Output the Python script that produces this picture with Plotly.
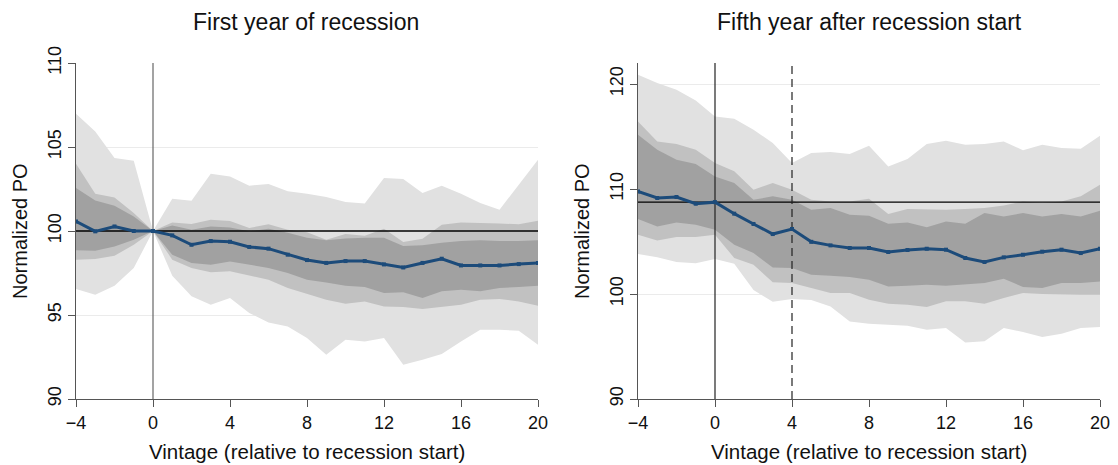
import plotly.graph_objects as go

# ---------------- data ----------------
VINTAGE = list(range(-4, 21))

# Left panel: first year of recession
L_CENTRAL = [100.57, 99.98, 100.27, 100.0, 100.0, 99.74, 99.18, 99.4, 99.36, 99.05, 98.95, 98.59, 98.27,
             98.1, 98.21, 98.21, 98.01, 97.83, 98.1, 98.35, 97.95, 97.95, 97.95, 98.03, 98.1]
L_LIGHT_UP = [106.98, 105.93, 104.35, 104.18, 100.0, 101.92, 101.8, 103.41, 103.25, 102.7, 102.8, 102.36, 102.22,
              102.02, 101.73, 101.64, 103.15, 103.09, 102.26, 102.7, 102.22, 101.67, 101.27, 102.76, 104.24]
L_MED_UP = [104.0, 102.22, 102.0, 101.07, 100.0, 100.51, 100.42, 100.67, 100.6, 100.18, 100.4, 100.08, 99.92,
            99.48, 99.82, 99.72, 100.14, 99.34, 99.54, 100.37, 100.51, 100.5, 100.45, 100.4, 100.61]
L_DARK_UP = [102.56, 101.82, 101.5, 100.87, 100.0, 100.32, 100.08, 100.27, 100.21, 99.98, 100.14, 99.9, 99.6,
             99.45, 99.55, 99.6, 99.6, 99.1, 99.15, 99.3, 99.4, 99.45, 99.4, 99.4, 99.45]
L_DARK_LO = [98.85, 98.83, 99.08, 99.48, 100.0, 98.59, 98.1, 97.99, 98.19, 97.99, 97.8, 97.5, 97.1,
             96.94, 96.74, 96.67, 96.31, 96.35, 96.01, 96.41, 96.51, 96.41, 96.61, 96.67, 96.74]
L_MED_LO = [98.29, 98.33, 98.53, 99.18, 100.0, 98.29, 97.8, 97.54, 97.6, 97.34, 97.1, 96.6, 96.25,
            95.91, 95.67, 95.81, 95.51, 95.47, 95.36, 95.47, 95.61, 95.91, 95.95, 95.81, 95.55]
L_LIGHT_LO = [96.55, 96.21, 96.74, 97.8, 100.0, 97.34, 96.11, 95.61, 96.01, 95.12, 94.56, 94.32, 93.63,
              92.63, 93.53, 93.43, 93.63, 92.04, 92.34, 92.68, 93.43, 94.12, 94.12, 94.06, 93.23]

# Right panel: fifth year after recession start
R_CENTRAL = [109.77, 109.14, 109.24, 108.6, 108.75, 107.65, 106.67, 105.71, 106.19, 104.97, 104.63, 104.38, 104.38,
             104.0, 104.19, 104.31, 104.22, 103.43, 103.05, 103.49, 103.74, 104.03, 104.22, 103.9, 104.31]
R_LIGHT_UP = [120.89, 120.1, 119.46, 118.44, 116.91, 116.7, 115.65, 114.38, 112.48, 113.43, 113.52, 113.33, 114.12,
              112.15, 112.86, 114.29, 114.6, 114.22, 114.29, 114.53, 113.68, 114.22, 113.9, 113.84, 115.08]
R_MED_UP = [116.44, 114.53, 114.29, 113.74, 112.48, 111.68, 109.93, 110.57, 109.93, 108.98, 108.82, 108.82, 109.08,
            107.62, 108.1, 108.03, 108.03, 108.1, 108.19, 108.44, 108.82, 108.67, 108.82, 109.3, 110.41]
R_DARK_UP = [115.17, 113.74, 112.79, 112.38, 111.2, 110.57, 108.98, 109.3, 108.98, 108.03, 108.19, 107.55, 107.46,
             106.7, 106.82, 106.35, 106.91, 106.7, 107.71, 107.39, 107.71, 107.39, 107.62, 107.39, 107.93]
R_DARK_LO = [107.14, 106.44, 106.82, 106.6, 106.12, 104.7, 103.9, 102.53, 102.47, 101.84, 101.74, 101.62, 101.36,
             100.72, 100.78, 100.89, 100.78, 100.89, 101.05, 101.46, 100.67, 100.57, 101.05, 101.05, 101.2]
R_MED_LO = [105.65, 105.1, 105.43, 105.43, 105.65, 103.43, 102.79, 101.11, 101.05, 100.57, 100.1, 100.1, 99.46,
            99.08, 98.98, 98.76, 99.3, 99.3, 99.08, 99.62, 100.1, 100.0, 99.93, 99.93, 99.93]
R_LIGHT_LO = [103.81, 103.5, 103.04, 102.92, 103.33, 102.87, 100.37, 99.27, 99.53, 99.43, 98.8, 97.39, 97.16,
              97.07, 96.98, 96.6, 96.76, 95.39, 95.49, 96.76, 96.38, 95.9, 96.22, 96.76, 96.86]

TITLES = ["First year of recession", "Fifth year after recession start"]
X_TITLE = "Vintage (relative to recession start)"
Y_TITLE = "Normalized PO"
X_TICKS = [-4, 0, 4, 8, 12, 16, 20]
L_Y_TICKS = [90, 95, 100, 105, 110]
R_Y_TICKS = [90, 100, 110, 120]
X_RANGE = [-4, 20]
L_Y_RANGE = [90, 110]
R_Y_RANGE = [90, 122]
RECESSION_START = 0
FIFTH_YEAR_MARK = 4

# ---------------- styling ----------------
FONT = "Liberation Sans, Arial, sans-serif"
C_LIGHT = "#e1e1e1"
C_MED = "#c1c1c1"
C_DARK = "#a1a1a1"
C_LINE = "#1c4b7a"
AX_COLOR = "#555555"
TXT = "#111111"

fig = go.Figure()


def add_panel(xa, ya, central, bands, y_range, ref_level, vline_color, extra_dash=None):
    for up, lo, col in bands:
        fig.add_trace(go.Scatter(x=VINTAGE, y=up, mode="lines", line=dict(width=0, color=col),
                                 xaxis=xa, yaxis=ya, showlegend=False, hoverinfo="skip"))
        fig.add_trace(go.Scatter(x=VINTAGE, y=lo, mode="lines", line=dict(width=0, color=col),
                                 fill="tonexty", fillcolor=col, xaxis=xa, yaxis=ya,
                                 showlegend=False, hoverinfo="skip"))
    # reference lines
    fig.add_trace(go.Scatter(x=X_RANGE, y=[ref_level, ref_level], mode="lines",
                             line=dict(color="#000000", width=1.3), xaxis=xa, yaxis=ya,
                             showlegend=False, hoverinfo="skip"))
    fig.add_trace(go.Scatter(x=[RECESSION_START, RECESSION_START], y=y_range, mode="lines",
                             line=dict(color=vline_color, width=1.2), xaxis=xa, yaxis=ya,
                             showlegend=False, hoverinfo="skip"))
    if extra_dash is not None:
        fig.add_trace(go.Scatter(x=[extra_dash, extra_dash], y=y_range, mode="lines",
                                 line=dict(color="#222222", width=1.2, dash="8px,5px"), xaxis=xa, yaxis=ya,
                                 showlegend=False, hoverinfo="skip"))
    fig.add_trace(go.Scatter(x=VINTAGE, y=central, mode="lines+markers",
                             line=dict(color=C_LINE, width=3), marker=dict(size=4, color=C_LINE, symbol="square"),
                             xaxis=xa, yaxis=ya, showlegend=False))


add_panel("x", "y", L_CENTRAL,
          [(L_LIGHT_UP, L_LIGHT_LO, C_LIGHT), (L_MED_UP, L_MED_LO, C_MED), (L_DARK_UP, L_DARK_LO, C_DARK)],
          L_Y_RANGE, 100, "#666666")
add_panel("x2", "y2", R_CENTRAL,
          [(R_LIGHT_UP, R_LIGHT_LO, C_LIGHT), (R_MED_UP, R_MED_LO, C_MED), (R_DARK_UP, R_DARK_LO, C_DARK)],
          R_Y_RANGE, R_CENTRAL[VINTAGE.index(RECESSION_START)], "#222222", extra_dash=FIFTH_YEAR_MARK)

W, H = 1118, 465
Y_DOM = [(H - 399) / H, (H - 63) / H]

xaxis_common = dict(range=X_RANGE, tickvals=X_TICKS, showgrid=False, zeroline=False, automargin=False,
                    showline=True, linecolor=AX_COLOR, linewidth=1, ticks="outside", ticklen=7,
                    tickcolor=AX_COLOR, tickfont=dict(size=18, color=TXT, family=FONT))
yaxis_common = dict(showgrid=True, gridcolor="#ebebeb", gridwidth=1, zeroline=False, automargin=False,
                    showline=True, linecolor=AX_COLOR, linewidth=1, ticks="outside", ticklen=7,
                    tickcolor=AX_COLOR, tickangle=-90, ticklabelstandoff=0,
                    tickfont=dict(size=18, color=TXT, family=FONT))

fig.update_layout(
    width=W, height=H,
    margin=dict(l=0, r=0, t=0, b=0),
    paper_bgcolor="white", plot_bgcolor="white",
    font=dict(family=FONT, color=TXT),
    xaxis=dict(domain=[76 / W, 538 / W], anchor="y", **xaxis_common),
    yaxis=dict(domain=Y_DOM, anchor="x", range=L_Y_RANGE, tickvals=L_Y_TICKS, **yaxis_common),
    xaxis2=dict(domain=[638 / W, 1100 / W], anchor="y2", **xaxis_common),
    yaxis2=dict(domain=Y_DOM, anchor="x2", range=R_Y_RANGE, tickvals=R_Y_TICKS, **yaxis_common),
)

annotations = [
    dict(text=TITLES[0], x=306 / W, y=1 - 22 / H, xref="paper", yref="paper", showarrow=False,
         font=dict(size=23, family=FONT, color=TXT), xanchor="center", yanchor="middle"),
    dict(text=TITLES[1], x=869 / W, y=1 - 22 / H, xref="paper", yref="paper", showarrow=False,
         font=dict(size=23, family=FONT, color=TXT), xanchor="center", yanchor="middle"),
    dict(text=X_TITLE, x=307 / W, y=1 - 451 / H, xref="paper", yref="paper", showarrow=False,
         font=dict(size=20.5, family=FONT, color=TXT), xanchor="center", yanchor="middle"),
    dict(text=X_TITLE, x=869 / W, y=1 - 451 / H, xref="paper", yref="paper", showarrow=False,
         font=dict(size=20.5, family=FONT, color=TXT), xanchor="center", yanchor="middle"),
    dict(text=Y_TITLE, x=20 / W, y=1 - 231 / H, xref="paper", yref="paper", showarrow=False, textangle=-90,
         font=dict(size=20, family=FONT, color=TXT), xanchor="center", yanchor="middle"),
    dict(text=Y_TITLE, x=582 / W, y=1 - 231 / H, xref="paper", yref="paper", showarrow=False, textangle=-90,
         font=dict(size=20, family=FONT, color=TXT), xanchor="center", yanchor="middle"),
]
fig.update_layout(annotations=annotations)

fig.write_html("out.html")
